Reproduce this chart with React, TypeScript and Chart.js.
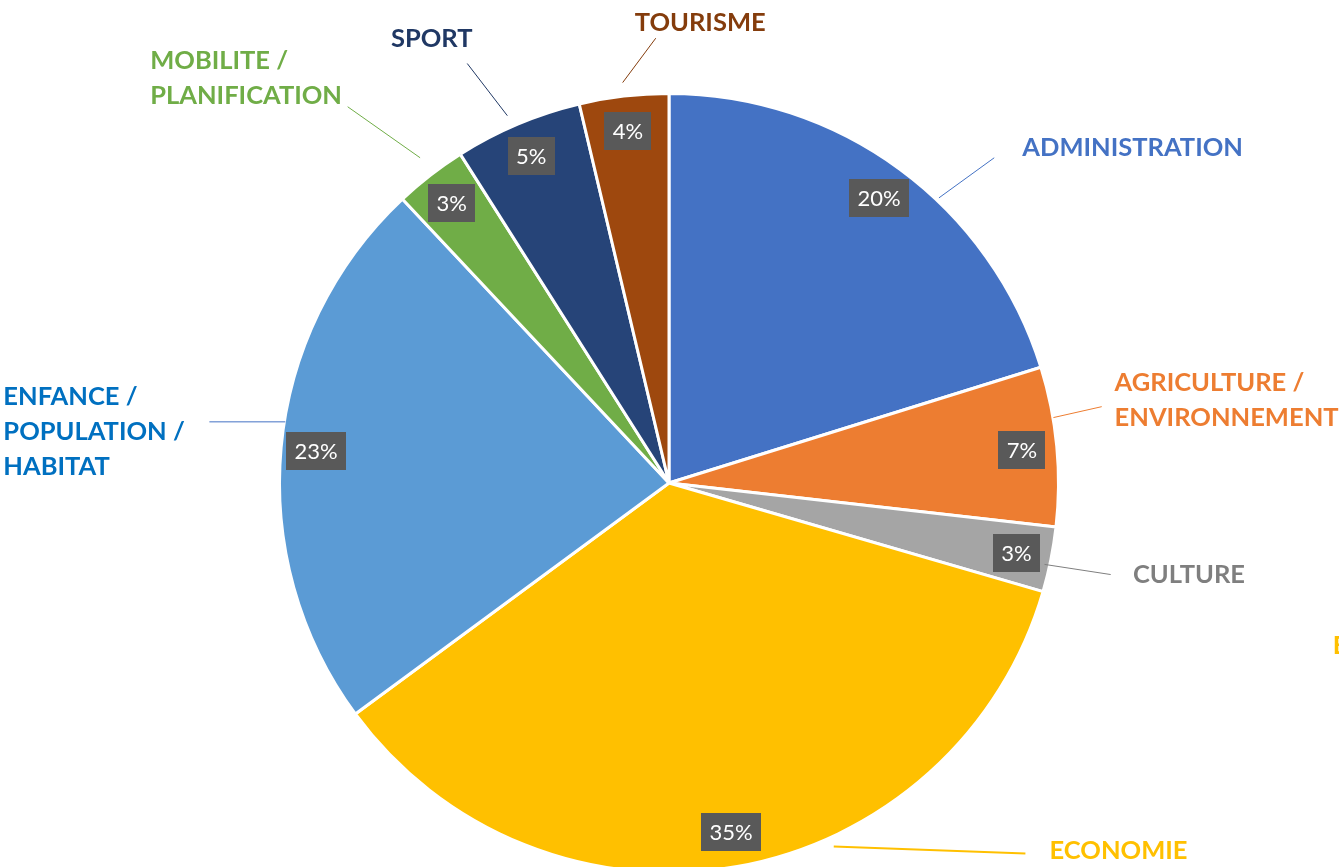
import React, { useEffect, useRef } from "react";
import { Chart, registerables } from "chart.js";

Chart.register(...registerables);

// ---- data ----
const categories = [
  "ADMINISTRATION",
  "AGRICULTURE / ENVIRONNEMENT",
  "CULTURE",
  "ECONOMIE",
  "ENFANCE / POPULATION / HABITAT",
  "MOBILITE / PLANIFICATION",
  "SPORT",
  "TOURISME",
];
const shares = [20.2, 6.6, 2.7, 35.4, 23.1, 3.0, 5.3, 3.7];
const labelLines = [
  ["ADMINISTRATION"],
  ["AGRICULTURE /", "ENVIRONNEMENT"],
  ["CULTURE"],
  ["ECONOMIE"],
  ["ENFANCE /", "POPULATION /", "HABITAT"],
  ["MOBILITE /", "PLANIFICATION"],
  ["SPORT"],
  ["TOURISME"],
];

// ---- styles ----
const sliceColors = ["#4472C4", "#ED7D31", "#A5A5A5", "#FFC000", "#5B9BD5", "#70AD47", "#264478", "#9E480E"];
const textColors = ["#4472C4", "#ED7D31", "#7F7F7F", "#FFC000", "#0070C0", "#70AD47", "#203864", "#843C0C"];
const leaderColors = ["#4472C4", "#ED7D31", "#7F7F7F", "#FFC000", "#4472C4", "#70AD47", "#203864", "#843C0C"];

// label layout, in units of the pie radius relative to its centre
// text: [left x, first line centre y]; line: [x1, y1, x2, y2]
const labelLayout = [
  { text: [0.907, -0.866], line: [0.835, -0.835, 0.693, -0.732], lw: 1 },
  { text: [1.144, -0.263], line: [1.111, -0.196, 0.987, -0.168], lw: 1 },
  { text: [1.191, 0.229], line: [1.134, 0.235, 0.964, 0.209], lw: 1 },
  { text: [0.977, 0.938], line: [0.915, 0.951, 0.423, 0.933], lw: 2 },
  { text: [-1.709, -0.229], line: [-1.18, -0.157, -0.985, -0.157], lw: 1 },
  { text: [-1.332, -1.09], line: [-0.825, -0.966, -0.639, -0.835], lw: 1 },
  { text: [-0.714, -1.147], line: [-0.518, -1.077, -0.415, -0.943], lw: 1 },
  { text: [-0.088, -1.188], line: [-0.034, -1.142, -0.119, -1.028], lw: 1 },
];
const strayLabel = { index: 3, text: [1.704, 0.412] };

const labelsPlugin = {
  id: "pieLabels",
  afterDatasetsDraw(chart: any) {
    const ctx = chart.ctx as CanvasRenderingContext2D;
    const meta = chart.getDatasetMeta(0);
    const data = chart.data.datasets[0].data as number[];
    const total = data.reduce((a, b) => a + b, 0);
    ctx.save();
    // percentage boxes
    ctx.font = "22px Lato";
    ctx.textAlign = "center";
    ctx.textBaseline = "middle";
    meta.data.forEach((arc: any, i: number) => {
      const mid = (arc.startAngle + arc.endAngle) / 2;
      const r = arc.outerRadius * 0.91;
      const x = arc.x + Math.cos(mid) * r;
      const y = arc.y + Math.sin(mid) * r;
      const txt = Math.round((data[i] / total) * 100) + "%";
      const w = ctx.measureText(txt).width + 17;
      const h = 38;
      ctx.fillStyle = "#595959";
      ctx.fillRect(Math.round(x - w / 2), Math.round(y - h / 2), Math.round(w), h);
      ctx.fillStyle = "#FFFFFF";
      ctx.fillText(txt, x, y + 1);
    });
    // outer labels
    const arc0 = meta.data[0];
    const cx = arc0.x;
    const cy = arc0.y;
    const R = arc0.outerRadius;
    ctx.font = "bold 25.5px Lato";
    ctx.textAlign = "left";
    labelLayout.forEach((lay, i) => {
      const [x1, y1, x2, y2] = lay.line;
      ctx.strokeStyle = leaderColors[i];
      ctx.lineWidth = lay.lw;
      ctx.beginPath();
      ctx.moveTo(cx + x1 * R, cy + y1 * R);
      ctx.lineTo(cx + x2 * R, cy + y2 * R);
      ctx.stroke();
      ctx.fillStyle = textColors[i];
      labelLines[i].forEach((ln, k) => {
        ctx.fillText(ln, cx + lay.text[0] * R, cy + lay.text[1] * R + k * 35 + 2.5);
      });
    });
    ctx.fillStyle = textColors[strayLabel.index];
    ctx.fillText(labelLines[strayLabel.index][0], cx + strayLabel.text[0] * R, cy + strayLabel.text[1] * R + 2.5);
    ctx.restore();
  },
};

export default function App() {
  const ref = useRef<HTMLCanvasElement | null>(null);
  useEffect(() => {
    document.body.style.margin = "0";
    document.body.style.overflow = "hidden";
    const chart = new Chart(ref.current as HTMLCanvasElement, {
      type: "pie",
      data: {
        labels: categories,
        datasets: [
          {
            data: shares,
            backgroundColor: sliceColors,
            borderColor: "#FFFFFF",
            borderWidth: 3,
          },
        ],
      },
      options: {
        responsive: false,
        animation: false,
        layout: { padding: { top: 92, bottom: 6, left: 0, right: 1 } },
        plugins: {
          legend: { display: false },
          tooltip: { enabled: false },
        },
      },
      plugins: [labelsPlugin],
    });
    return () => chart.destroy();
  }, []);
  return (
    <div style={{ position: "fixed", left: 0, top: 0, width: 1339, height: 880, background: "#fff" }}>
      <canvas ref={ref} width={1339} height={880} style={{ width: 1339, height: 880, display: "block" }} />
    </div>
  );
}
